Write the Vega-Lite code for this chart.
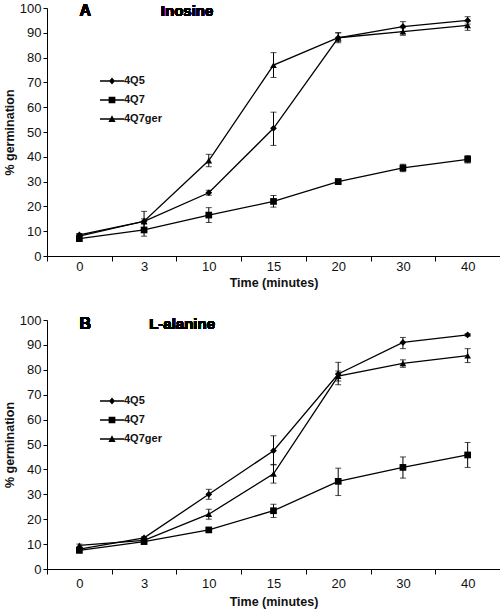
{
  "$schema": "https://vega.github.io/schema/vega-lite/v6.json",
  "padding": {"left": 3, "top": 2, "right": 2, "bottom": 2},
  "spacing": 25,
  "config": {
    "view": {"stroke": null},
    "font": "Liberation Sans",
    "axis": {"grid": false, "domainColor": "#000", "tickColor": "#000", "labelColor": "#111", "titleColor": "#111", "labelFont": "Liberation Sans", "titleFont": "Liberation Sans", "labelFontSize": 13, "titleFontSize": 12.5, "titleFontWeight": "bold", "domainWidth": 1, "tickWidth": 1},
    "legend": {"labelFont": "Liberation Sans", "labelFontSize": 11, "labelFontWeight": "bold", "labelColor": "#111"}
  },
  "data": {"values": [
    {"panel": "A", "series": "4Q5", "time": "0", "value": 8.5, "lo": 8, "hi": 9},
    {"panel": "A", "series": "4Q5", "time": "3", "value": 14, "lo": 13, "hi": 15},
    {"panel": "A", "series": "4Q5", "time": "10", "value": 25.5, "lo": 24.5, "hi": 26.5},
    {"panel": "A", "series": "4Q5", "time": "15", "value": 51.5, "lo": 44.6, "hi": 58},
    {"panel": "A", "series": "4Q5", "time": "20", "value": 88, "lo": 86, "hi": 90},
    {"panel": "A", "series": "4Q5", "time": "30", "value": 92.5, "lo": 90.5, "hi": 94.5},
    {"panel": "A", "series": "4Q5", "time": "40", "value": 95, "lo": 93.5, "hi": 96.5},
    {"panel": "A", "series": "4Q7", "time": "0", "value": 7, "lo": 6, "hi": 8},
    {"panel": "A", "series": "4Q7", "time": "3", "value": 10.5, "lo": 8, "hi": 13},
    {"panel": "A", "series": "4Q7", "time": "10", "value": 16.5, "lo": 13.5, "hi": 19.5},
    {"panel": "A", "series": "4Q7", "time": "15", "value": 22, "lo": 19.7, "hi": 24.4},
    {"panel": "A", "series": "4Q7", "time": "20", "value": 30, "lo": 29, "hi": 31},
    {"panel": "A", "series": "4Q7", "time": "30", "value": 35.5, "lo": 34, "hi": 37},
    {"panel": "A", "series": "4Q7", "time": "40", "value": 39, "lo": 37.5, "hi": 40.5},
    {"panel": "A", "series": "4Q7ger", "time": "0", "value": 8, "lo": 7, "hi": 9},
    {"panel": "A", "series": "4Q7ger", "time": "3", "value": 14, "lo": 10, "hi": 18},
    {"panel": "A", "series": "4Q7ger", "time": "10", "value": 38.5, "lo": 36, "hi": 41},
    {"panel": "A", "series": "4Q7ger", "time": "15", "value": 77, "lo": 72, "hi": 82},
    {"panel": "A", "series": "4Q7ger", "time": "20", "value": 88, "lo": 86.5, "hi": 90},
    {"panel": "A", "series": "4Q7ger", "time": "30", "value": 90.5, "lo": 89, "hi": 92},
    {"panel": "A", "series": "4Q7ger", "time": "40", "value": 93, "lo": 91, "hi": 94.5},
    {"panel": "B", "series": "4Q5", "time": "0", "value": 8, "lo": 7.5, "hi": 8.5},
    {"panel": "B", "series": "4Q5", "time": "3", "value": 12.5, "lo": 12, "hi": 13},
    {"panel": "B", "series": "4Q5", "time": "10", "value": 30, "lo": 28, "hi": 32},
    {"panel": "B", "series": "4Q5", "time": "15", "value": 47.5, "lo": 41.8, "hi": 53.5},
    {"panel": "B", "series": "4Q5", "time": "20", "value": 78.3, "lo": 74, "hi": 83},
    {"panel": "B", "series": "4Q5", "time": "30", "value": 91, "lo": 88.5, "hi": 93},
    {"panel": "B", "series": "4Q5", "time": "40", "value": 94, "lo": 93.5, "hi": 94.5},
    {"panel": "B", "series": "4Q7", "time": "0", "value": 7.5, "lo": 6.5, "hi": 8.5},
    {"panel": "B", "series": "4Q7", "time": "3", "value": 11, "lo": 10.5, "hi": 11.5},
    {"panel": "B", "series": "4Q7", "time": "10", "value": 15.7, "lo": 15, "hi": 16.5},
    {"panel": "B", "series": "4Q7", "time": "15", "value": 23.4, "lo": 20.7, "hi": 26},
    {"panel": "B", "series": "4Q7", "time": "20", "value": 35.2, "lo": 29.5, "hi": 40.5},
    {"panel": "B", "series": "4Q7", "time": "30", "value": 40.8, "lo": 36.5, "hi": 45},
    {"panel": "B", "series": "4Q7", "time": "40", "value": 45.8, "lo": 40.8, "hi": 50.8},
    {"panel": "B", "series": "4Q7ger", "time": "0", "value": 9.5, "lo": 9, "hi": 10},
    {"panel": "B", "series": "4Q7ger", "time": "3", "value": 11.5, "lo": 11, "hi": 12},
    {"panel": "B", "series": "4Q7ger", "time": "10", "value": 22, "lo": 20, "hi": 24},
    {"panel": "B", "series": "4Q7ger", "time": "15", "value": 38.2, "lo": 34.5, "hi": 42},
    {"panel": "B", "series": "4Q7ger", "time": "20", "value": 77.5, "lo": 75.5, "hi": 79.5},
    {"panel": "B", "series": "4Q7ger", "time": "30", "value": 82.6, "lo": 81, "hi": 84},
    {"panel": "B", "series": "4Q7ger", "time": "40", "value": 85.7, "lo": 82.9, "hi": 88.5}
  ]},
  "resolve": {"scale": {"shape": "independent"}, "legend": {"shape": "independent"}},
  "vconcat": [
    {
      "width": 453, "height": 248,
      "transform": [{"filter": "datum.panel == 'A'"}],
      "encoding": {
        "x": {"field": "time", "type": "ordinal", "sort": ["0", "3", "10", "15", "20", "30", "40"], "scale": {"paddingInner": 0, "paddingOuter": 0}, "axis": {"title": "Time (minutes)", "labelAngle": 0, "tickBand": "extent", "tickSize": 5, "labelPadding": -1, "titlePadding": 3}},
        "y": {"field": "value", "type": "quantitative", "scale": {"domain": [0, 100], "nice": false}, "axis": {"title": "% germination", "values": [0, 10, 20, 30, 40, 50, 60, 70, 80, 90, 100], "tickSize": 4, "labelPadding": 2, "titlePadding": 3}}
      },
      "layer": [
        {"mark": {"type": "line", "color": "#000", "strokeWidth": 1.3}, "encoding": {"detail": {"field": "series"}}},
        {"mark": {"type": "errorbar", "color": "#000", "ticks": {"size": 6, "thickness": 1}, "rule": {"strokeWidth": 1}}, "encoding": {"y": {"field": "lo", "type": "quantitative"}, "y2": {"field": "hi"}}},
        {"mark": {"type": "point", "filled": true, "opacity": 1, "color": "#000", "size": 45}, "encoding": {"shape": {"field": "series", "scale": {"domain": ["4Q5", "4Q7", "4Q7ger"], "range": ["diamond", "square", "triangle-up"]}, "legend": null}}},
        {"transform": [{"filter": "false"}], "mark": {"type": "point", "filled": true, "color": "#000"}, "encoding": {"shape": {"field": "series", "scale": {"domain": ["4Q5", "4Q7", "4Q7ger"], "range": ["M-1,-0.055H1V0.055H-1Z M0,-0.3L0.25,0L0,0.3L-0.25,0Z", "M-1,-0.055H1V0.055H-1Z M-0.28,-0.28H0.28V0.28H-0.28Z", "M-1,-0.055H1V0.055H-1Z M0,-0.32L0.3,0.25H-0.3Z"]}, "legend": {"title": null, "orient": "none", "legendX": 53, "legendY": 61, "padding": 0, "symbolSize": 576, "symbolFillColor": "#000", "symbolStrokeWidth": 0, "symbolOpacity": 1, "rowPadding": 2, "labelOffset": 0}}}},
        {"mark": {"type": "text", "fontSize": 16, "fontWeight": "bold", "color": "#000", "baseline": "middle", "dx": 6, "dy": 3}, "encoding": {"x": {"datum": "0"}, "y": {"datum": 100}, "text": {"value": "A"}}},
        {"mark": {"type": "text", "fontSize": 15, "fontWeight": "bold", "color": "#000", "baseline": "middle", "dx": 43, "dy": 3}, "encoding": {"x": {"datum": "3"}, "y": {"datum": 100}, "text": {"value": "Inosine"}}}
      ],
      "resolve": {"scale": {"shape": "independent"}}
    },
    {
      "width": 453, "height": 249,
      "transform": [{"filter": "datum.panel == 'B'"}],
      "encoding": {
        "x": {"field": "time", "type": "ordinal", "sort": ["0", "3", "10", "15", "20", "30", "40"], "scale": {"paddingInner": 0, "paddingOuter": 0}, "axis": {"title": "Time (minutes)", "labelAngle": 0, "tickBand": "extent", "tickSize": 5, "labelPadding": 3, "titlePadding": 5}},
        "y": {"field": "value", "type": "quantitative", "scale": {"domain": [0, 100], "nice": false}, "axis": {"title": "% germination", "values": [0, 10, 20, 30, 40, 50, 60, 70, 80, 90, 100], "tickSize": 4, "labelPadding": 2, "titlePadding": 3}}
      },
      "layer": [
        {"mark": {"type": "line", "color": "#000", "strokeWidth": 1.3}, "encoding": {"detail": {"field": "series"}}},
        {"mark": {"type": "errorbar", "color": "#000", "ticks": {"size": 6, "thickness": 1}, "rule": {"strokeWidth": 1}}, "encoding": {"y": {"field": "lo", "type": "quantitative"}, "y2": {"field": "hi"}}},
        {"mark": {"type": "point", "filled": true, "opacity": 1, "color": "#000", "size": 45}, "encoding": {"shape": {"field": "series", "scale": {"domain": ["4Q5", "4Q7", "4Q7ger"], "range": ["diamond", "square", "triangle-up"]}, "legend": null}}},
        {"transform": [{"filter": "false"}], "mark": {"type": "point", "filled": true, "color": "#000"}, "encoding": {"shape": {"field": "series", "scale": {"domain": ["4Q5", "4Q7", "4Q7ger"], "range": ["M-1,-0.055H1V0.055H-1Z M0,-0.3L0.25,0L0,0.3L-0.25,0Z", "M-1,-0.055H1V0.055H-1Z M-0.28,-0.28H0.28V0.28H-0.28Z", "M-1,-0.055H1V0.055H-1Z M0,-0.32L0.3,0.25H-0.3Z"]}, "legend": {"title": null, "orient": "none", "legendX": 53, "legendY": 69, "padding": 0, "symbolSize": 576, "symbolFillColor": "#000", "symbolStrokeWidth": 0, "symbolOpacity": 1, "rowPadding": 2, "labelOffset": 0}}}},
        {"mark": {"type": "text", "fontSize": 16, "fontWeight": "bold", "color": "#000", "baseline": "middle", "dx": 6, "dy": 4}, "encoding": {"x": {"datum": "0"}, "y": {"datum": 100}, "text": {"value": "B"}}},
        {"mark": {"type": "text", "fontSize": 15, "fontWeight": "bold", "color": "#000", "baseline": "middle", "dx": 38, "dy": 4}, "encoding": {"x": {"datum": "3"}, "y": {"datum": 100}, "text": {"value": "L-alanine"}}}
      ],
      "resolve": {"scale": {"shape": "independent"}}
    }
  ]
}
